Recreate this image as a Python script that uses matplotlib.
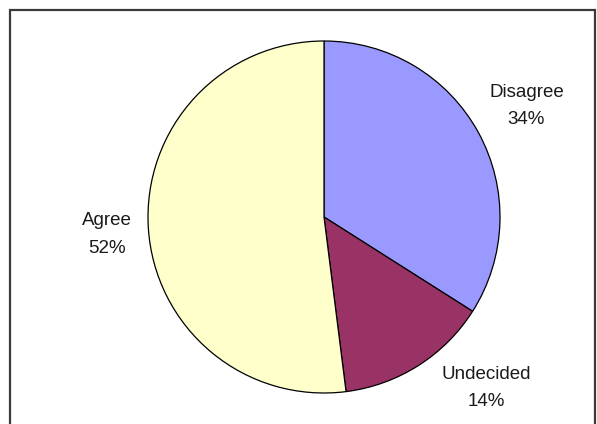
import matplotlib.pyplot as plt
from matplotlib.patches import Rectangle

labels = ['Disagree', 'Undecided', 'Agree']
shares = [34, 14, 52]
colors = ['#9999FF', '#993366', '#FFFFCC']

# label centres in pie units (radius = 1)
label_pos = [(1.15, 0.63), (0.92, -0.97), (-1.233, -0.10)]

fig = plt.figure(figsize=(5.97, 4.24), dpi=100)
plt.rcParams['font.family'] = ['Liberation Sans', 'DejaVu Sans']

# outer chart frame (runs off the bottom of the image)
fig.add_artist(Rectangle((10 / 597, -0.2), 585 / 597, 1.2 - 10 / 424,
                         transform=fig.transFigure, fill=False,
                         edgecolor='#3a3a3a', linewidth=1.6))

ax = fig.add_axes([148 / 597, 31 / 424, 352 / 597, 352 / 424])
ax.pie(shares, colors=colors, startangle=90, counterclock=False,
       wedgeprops=dict(edgecolor='black', linewidth=0.9))
ax.set_xlim(-1, 1)
ax.set_ylim(-1, 1)
ax.set_aspect('auto')
ax.axis('off')

for lab, val, (x, y) in zip(labels, shares, label_pos):
    ax.text(x, y, f'{lab}\n{val}%', ha='center', va='center',
            fontsize=13.5, color='#1a1a1a', linespacing=1.8,
            clip_on=False)

fig.savefig('out.png', dpi=100)
